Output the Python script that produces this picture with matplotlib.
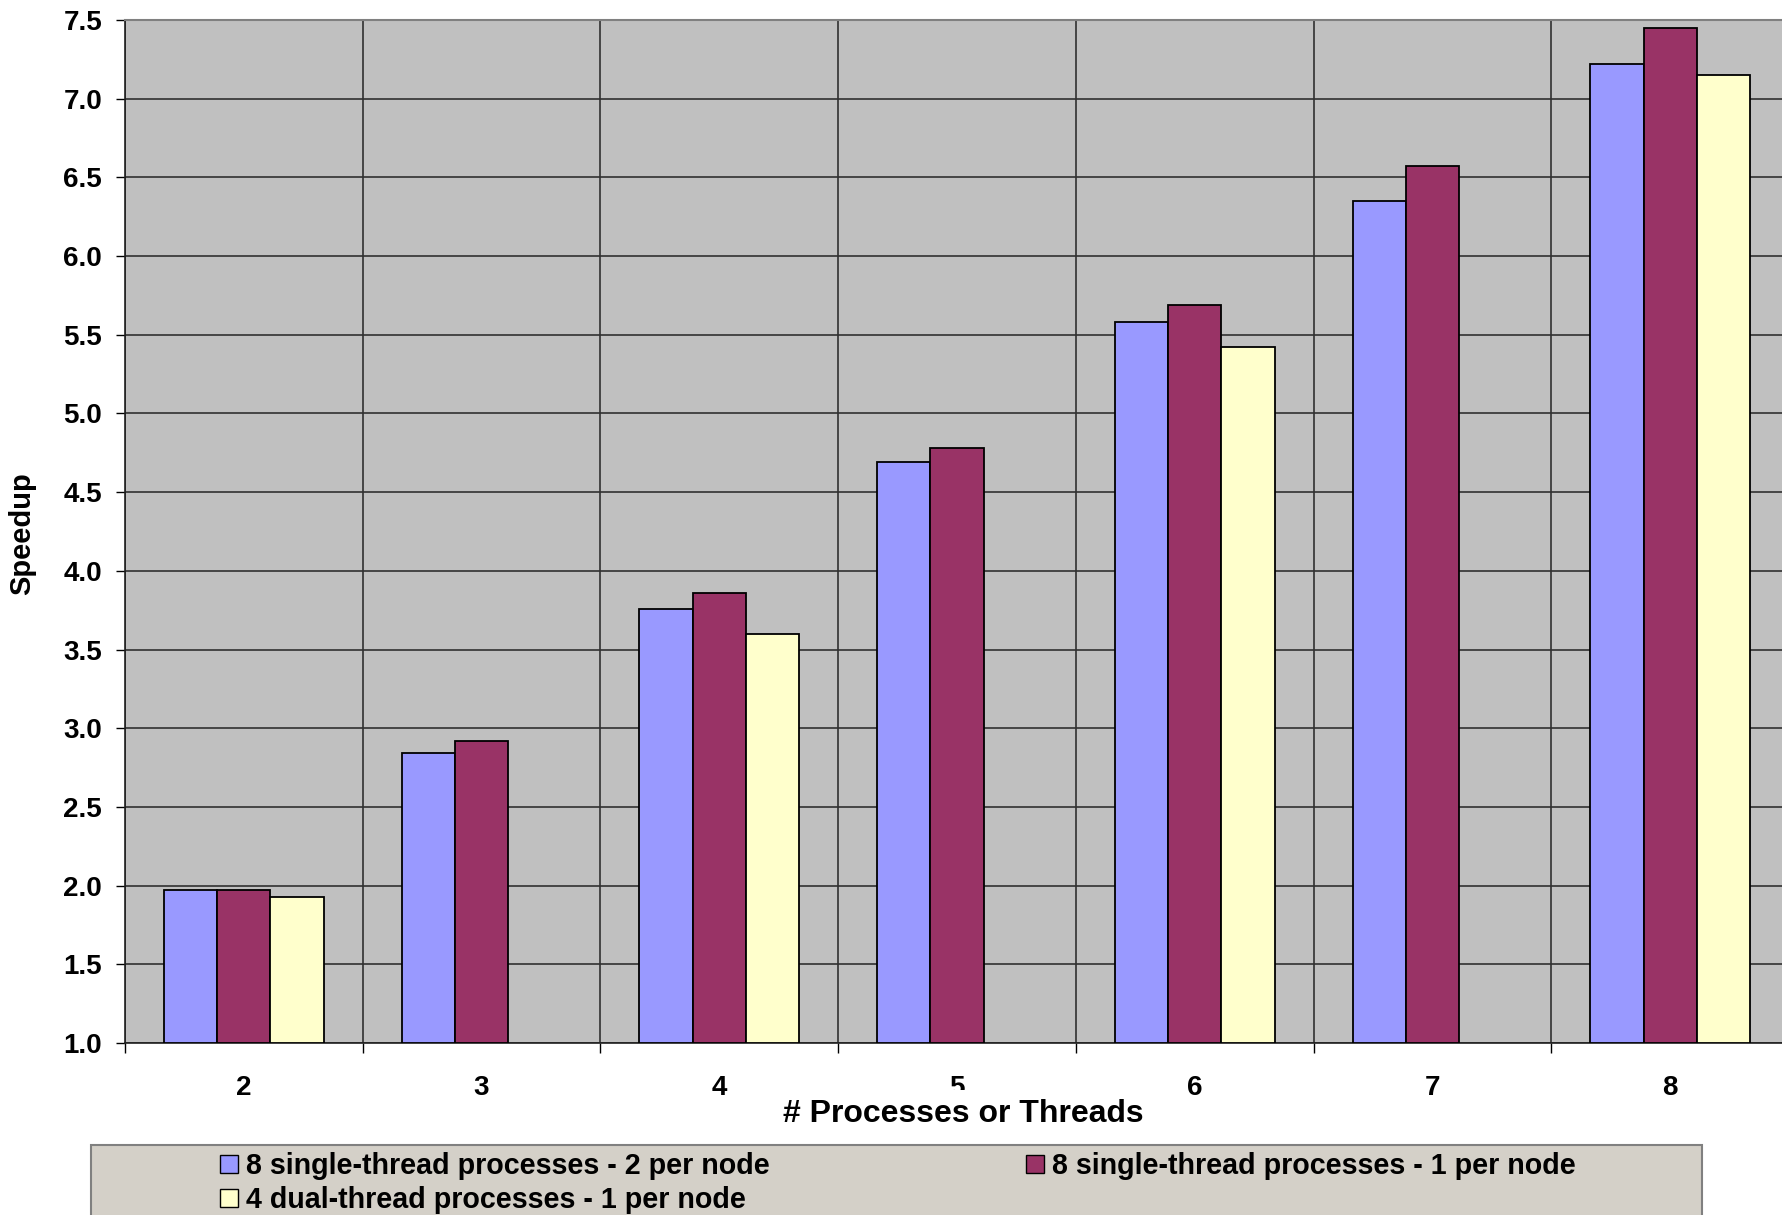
import numpy as np
import matplotlib
matplotlib.use("Agg")
import matplotlib.pyplot as plt
from matplotlib.patches import Rectangle, Patch
from matplotlib.ticker import MultipleLocator

plt.rcParams['font.family'] = ['Liberation Sans', 'DejaVu Sans']
plt.rcParams['font.weight'] = 'bold'

# speedup per number of processes / threads
categories = ["2", "3", "4", "5", "6", "7", "8"]
two_per_node = [1.97, 2.84, 3.76, 4.69, 5.58, 6.35, 7.22]
one_per_node = [1.97, 2.92, 3.86, 4.78, 5.69, 6.57, 7.45]
dual_thread = [1.93, np.nan, 3.60, np.nan, 5.42, np.nan, 7.15]

labels = ["8 single-thread processes - 2 per node",
          "8 single-thread processes - 1 per node",
          "4 dual-thread processes - 1 per node"]
colors = ["#9999FF", "#993366", "#FFFFCC"]

W, H = 1783, 1215
fig = plt.figure(figsize=(W / 100, H / 100), dpi=100)
ax = fig.add_axes([125 / W, 1 - 1043 / H, 1664 / W, 1023 / H])
ax.set_facecolor("#C0C0C0")

x = np.arange(len(categories))
bw = 0.224
for i, (vals, col) in enumerate(zip([two_per_node, one_per_node, dual_thread], colors)):
    ax.bar(x + (i - 1) * bw, np.array(vals) - 1.0, width=bw, bottom=1.0,
           color=col, edgecolor="black", linewidth=1.3, zorder=3)

ax.set_ylim(1.0, 7.5)
ax.set_xlim(-0.5, 6.5)
ax.yaxis.set_major_locator(MultipleLocator(0.5))
ax.set_yticklabels([f"{v:.1f}" for v in ax.get_yticks()])
ax.set_xticks(x)
ax.set_xticklabels(categories)
ax.set_xticks(np.arange(-0.5, 7.0, 1.0), minor=True)

ax.grid(axis="y", which="major", color="#303030", linewidth=1.2, zorder=1)
ax.grid(axis="x", which="minor", color="#303030", linewidth=1.2, zorder=1)
ax.set_axisbelow(True)

ax.tick_params(axis="y", direction="out", length=6.5, width=1, pad=10, labelsize=20)
ax.tick_params(axis="x", which="major", length=0, pad=23, labelsize=20)
ax.tick_params(axis="x", which="minor", direction="out", length=7, width=1)

for s in ["left", "bottom"]:
    ax.spines[s].set_color("#202020")
    ax.spines[s].set_linewidth(1.2)
ax.spines["top"].set_color("#808080")
ax.spines["top"].set_linewidth(1.5)
ax.spines["right"].set_visible(False)

ax.set_xlabel("# Processes or Threads", fontsize=23, fontweight="bold",
              bbox=dict(facecolor="white", edgecolor="none", pad=7))
ax.xaxis.set_label_coords(0.504, -0.055)
ax.set_ylabel("Speedup", fontsize=21, fontweight="bold")
ax.yaxis.set_label_coords(-0.0535, 0.4976)

# legend panel
fig.patches.append(Rectangle((91 / W, -0.02), (1702 - 91) / W, 0.02 + 1 - 1145 / H,
                             transform=fig.transFigure, facecolor="#D4D0C8",
                             edgecolor="#808080", linewidth=1.5, zorder=0))
handles = [Patch(facecolor=colors[0], edgecolor="black", label=labels[0]),
           Patch(facecolor=colors[2], edgecolor="black", label=labels[2]),
           Patch(facecolor=colors[1], edgecolor="black", label=labels[1])]
fig.legend(handles=handles, ncol=2, loc="upper left",
           bbox_to_anchor=(220 / W, 1 - 1152 / H), frameon=False,
           borderpad=0, borderaxespad=0,
           handlelength=0.62, handleheight=0.62, handletextpad=0.3,
           labelspacing=0.22, columnspacing=8.95,
           prop=dict(weight="bold", size=20.6))

fig.savefig("out.png", dpi=100)
